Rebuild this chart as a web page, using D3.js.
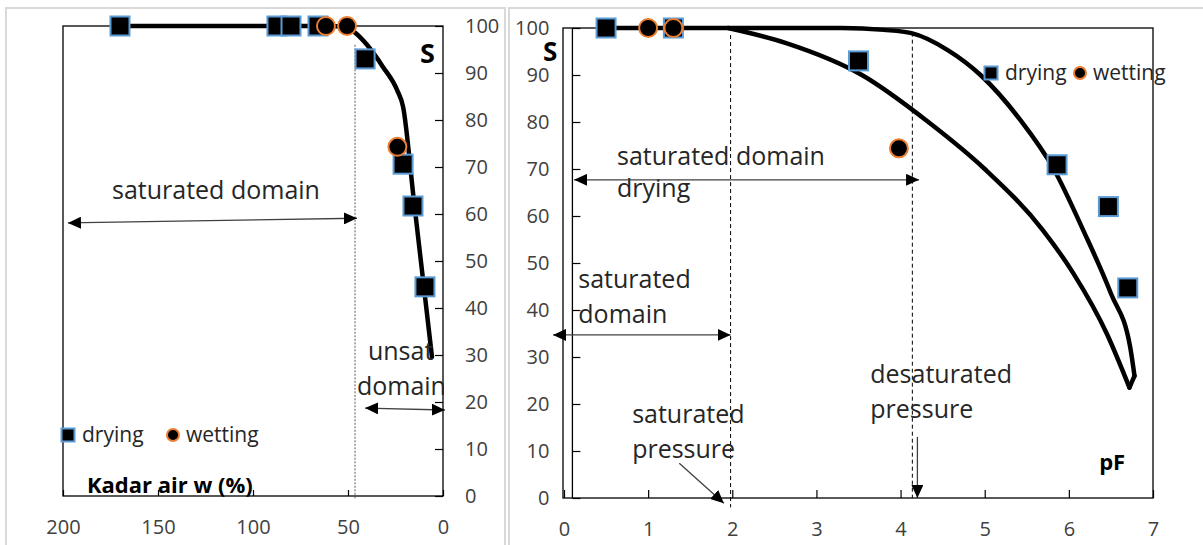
<!DOCTYPE html>
<html>
<head>
<meta charset="utf-8">
<script src="https://cdn.jsdelivr.net/npm/d3@7"></script>
<style>
  body { margin: 0; background: #fff; }
  text { font-family: "Open Sans", sans-serif; }
</style>
</head>
<body>
<svg width="1203" height="545"></svg>
<script>
// ---- data: left panel (water content w % vs S) ----
const leftDryW = [170, 87.4, 80, 65.8, 41, 21, 15.8, 9.5];
const leftDryS = [100, 100, 100, 100, 93, 70.6, 61.7, 44.5];
const leftWetW = [61.6, 50.5, 24];
const leftWetS = [100, 100, 74.3];
const leftCurveW = [170, 120, 80, 60, 52, 47, 40, 31.6, 24.2, 21, 15.5, 10.5, 5.8];
const leftCurveS = [100, 100, 100, 100, 99.7, 98.8, 96, 91.3, 86.4, 82.8, 63.5, 46, 29.6];
const leftXTicks = [200, 150, 100, 50, 0];

// ---- data: right panel (pF vs S) ----
const rightDryX = [0.5, 1.3, 3.5, 5.86, 6.47, 6.7];
const rightDryS = [100, 100, 93, 70.9, 62, 44.7];
const rightWetX = [1.0, 1.3, 3.98];
const rightWetS = [100, 100, 74.4];
const dryCurveX = [0.5, 2, 3.3, 3.8, 4.13, 4.56, 4.95, 5.42, 5.82, 6.17, 6.5, 6.73, 6.78];
const dryCurveS = [100, 100, 100, 99.6, 98.9, 95.3, 90, 80.5, 70, 57, 43.5, 32, 26];
const wetCurveX = [1.95, 2.64, 3.54, 4.33, 5.0, 5.69, 6.05, 6.45, 6.72];
const wetCurveS = [100, 96.8, 90, 80, 70, 57, 47.9, 35, 23.5];
const rightXTicks = [0, 1, 2, 3, 4, 5, 6, 7];
const yTicks = [0, 10, 20, 30, 40, 50, 60, 70, 80, 90, 100];

const svg = d3.select("svg");
const BLUE = "#5b9bd5", ORANGE = "#ed7d31";

// arrowheads
const defs = svg.append("defs");
defs.append("marker")
  .attr("id", "head")
  .attr("markerUnits", "userSpaceOnUse")
  .attr("markerWidth", 14).attr("markerHeight", 12)
  .attr("refX", 13).attr("refY", 6)
  .attr("orient", "auto-start-reverse")
  .append("path").attr("d", "M0,0 L13,6 L0,12 z").attr("fill", "#000");
defs.append("clipPath").attr("id", "clipL")
  .append("rect").attr("x", 0).attr("y", 0).attr("width", 444).attr("height", 545);

// panel frames
svg.append("rect").attr("x", 6).attr("y", 8).attr("width", 499).attr("height", 545)
  .attr("fill", "none").attr("stroke", "#d9d9d9").attr("stroke-width", 2);
svg.append("rect").attr("x", 509).attr("y", 8).attr("width", 700).attr("height", 545)
  .attr("fill", "none").attr("stroke", "#d9d9d9").attr("stroke-width", 2);

function styleAxis(g) {
  g.select(".domain").remove();
  g.selectAll(".tick line").attr("stroke", "#000").attr("stroke-width", 1.2);
  g.selectAll(".tick text").attr("fill", "#404040")
    .style("font-size", "20px").style("font-family", "Open Sans, sans-serif");
}

function drawPoints(g, xs, ys, x, y, kind) {
  const pts = xs.map((v, i) => [v, ys[i]]);
  if (kind === "sq") {
    g.selectAll(null).data(pts).enter().append("rect")
      .attr("x", d => x(d[0]) - 9.5).attr("y", d => y(d[1]) - 9.5)
      .attr("width", 19).attr("height", 19)
      .attr("fill", "#000").attr("stroke", BLUE).attr("stroke-width", 2);
  } else {
    g.selectAll(null).data(pts).enter().append("circle")
      .attr("cx", d => x(d[0])).attr("cy", d => y(d[1])).attr("r", 9)
      .attr("fill", "#000").attr("stroke", ORANGE).attr("stroke-width", 2);
  }
}

function arrow(g, x, y, a, double) {
  g.append("line")
    .attr("x1", x(a[0])).attr("y1", y(a[1])).attr("x2", x(a[2])).attr("y2", y(a[3]))
    .attr("stroke", "#404040").attr("stroke-width", 1.3)
    .attr("marker-end", "url(#head)")
    .attr("marker-start", double ? "url(#head)" : null);
}

function label(g, x, y, t, bold, size) {
  g.append("text").attr("x", x(t[1])).attr("y", y(t[2]))
    .attr("fill", bold ? "#000" : "#262626")
    .style("font-size", size + "px")
    .style("font-weight", bold ? "bold" : "normal")
    .text(t[0]);
}

// gap = distance from the square to the circle
function legend(g, tx, ty, gap) {
  const l = g.append("g").attr("transform", `translate(${tx},${ty})`);
  l.append("rect").attr("x", -6.5).attr("y", -6.5).attr("width", 13).attr("height", 13)
    .attr("fill", "#000").attr("stroke", BLUE).attr("stroke-width", 2);
  l.append("text").attr("x", 14).attr("y", 7).attr("fill", "#262626")
    .style("font-size", "21px").text("drying");
  l.append("circle").attr("cx", gap).attr("cy", 0).attr("r", 6)
    .attr("fill", "#000").attr("stroke", ORANGE).attr("stroke-width", 2);
  l.append("text").attr("x", gap + 13).attr("y", 7).attr("fill", "#262626")
    .style("font-size", "21px").text("wetting");
}

const line = d3.line().curve(d3.curveMonotoneX);

function curve(g, pts) {
  g.append("path").attr("d", line(pts))
    .attr("fill", "none").attr("stroke", "#000").attr("stroke-width", 4.5)
    .attr("stroke-linecap", "round").attr("stroke-linejoin", "round");
}

// ================= LEFT PANEL =================
const xL = d3.scaleLinear().domain([200, 0]).range([63, 443]);
const yL = d3.scaleLinear().domain([0, 100]).range([496, 26]);
const gL = svg.append("g");

gL.append("rect").attr("x", xL(200)).attr("y", yL(100))
  .attr("width", xL(0) - xL(200)).attr("height", yL(0) - yL(100))
  .attr("fill", "none").attr("stroke", "#000").attr("stroke-width", 1.3);

gL.append("g").attr("transform", `translate(${xL(0)},0)`)
  .call(d3.axisRight(yL).tickValues(yTicks).tickSizeInner(-8).tickSizeOuter(0).tickPadding(22))
  .call(styleAxis);
gL.append("g").attr("transform", `translate(0,${yL(0)})`)
  .call(d3.axisBottom(xL).tickValues(leftXTicks).tickSizeInner(-6).tickSizeOuter(0).tickPadding(24))
  .call(styleAxis);

// dotted saturation limit
gL.append("line").attr("x1", xL(46.3)).attr("x2", xL(46.3)).attr("y1", yL(96)).attr("y2", yL(-0.5))
  .attr("stroke", "#595959").attr("stroke-width", 1).attr("stroke-dasharray", "2,1.5");

curve(gL, leftCurveW.map((w, i) => [xL(w), yL(leftCurveS[i])]));

const annL = gL.append("g").attr("clip-path", "url(#clipL)");
label(annL, xL, yL, ["saturated domain", 174.2, 63.2], false, 25);
label(annL, xL, yL, ["unsat", 39.5, 28.9], false, 25);
label(annL, xL, yL, ["domain", 45.3, 21.5], false, 25);
arrow(gL, xL, yL, [197.4, 58.1, 45.3, 59.1], true);
arrow(gL, xL, yL, [41, 18.7, -1, 18.3], true);
label(gL, xL, yL, ["S", 12.1, 92.1], true, 27);
label(gL, xL, yL, ["Kadar air w (%)", 187.4, 0.6], true, 22);

drawPoints(gL, leftDryW, leftDryS, xL, yL, "sq");
drawPoints(gL, leftWetW, leftWetS, xL, yL, "ci");
legend(gL, 68, 435, 105);

// ================= RIGHT PANEL =================
const xR = d3.scaleLinear().domain([0, 7]).range([564, 1153]);
const yR = d3.scaleLinear().domain([0, 100]).range([498, 28]);
const gR = svg.append("g");

gR.append("rect").attr("x", xR(0) - 1).attr("y", yR(100))
  .attr("width", xR(7) - xR(0) + 1).attr("height", yR(0) - yR(100))
  .attr("fill", "none").attr("stroke", "#000").attr("stroke-width", 1.3);
gR.append("line").attr("x1", xR(0.1)).attr("x2", xR(0.1)).attr("y1", yR(100)).attr("y2", yR(0))
  .attr("stroke", "#000").attr("stroke-width", 1.3);

gR.append("g").attr("transform", `translate(${xR(0.1)},0)`)
  .call(d3.axisLeft(yR).tickValues(yTicks).tickSizeInner(-8).tickSizeOuter(0).tickPadding(23))
  .call(styleAxis);
gR.append("g").attr("transform", `translate(0,${yR(0)})`)
  .call(d3.axisBottom(xR).tickValues(rightXTicks).tickFormat(d3.format("d"))
    .tickSizeInner(-8).tickSizeOuter(0).tickPadding(24))
  .call(styleAxis);

// dashed pressure limits
[[1.98, 98.5, -2], [4.14, 99, 0]].forEach(d => {
  gR.append("line").attr("x1", xR(d[0])).attr("x2", xR(d[0])).attr("y1", yR(d[1])).attr("y2", yR(d[2]))
    .attr("stroke", "#000").attr("stroke-width", 1).attr("stroke-dasharray", "4,3");
});

const dryPts = dryCurveX.map((v, i) => [xR(v), yR(dryCurveS[i])]);
const wetPts = wetCurveX.map((v, i) => [xR(v), yR(wetCurveS[i])]);
curve(gR, dryPts);
curve(gR, wetPts);
// closing tip of the hysteresis loop
curve(gR, [dryPts[dryPts.length - 1], wetPts[wetPts.length - 1]]);

label(gR, xR, yR, ["saturated domain", 0.63, 70.9], false, 25);
label(gR, xR, yR, ["drying", 0.63, 64], false, 25);
label(gR, xR, yR, ["saturated", 0.17, 44.7], false, 25);
label(gR, xR, yR, ["domain", 0.17, 37.2], false, 25);
label(gR, xR, yR, ["saturated", 0.81, 16], false, 25);
label(gR, xR, yR, ["pressure", 0.81, 8.5], false, 25);
label(gR, xR, yR, ["desaturated", 3.64, 24.5], false, 25);
label(gR, xR, yR, ["pressure", 3.64, 17], false, 25);
label(gR, xR, yR, ["pF", 6.36, 6], true, 22);
label(gR, xR, yR, ["S", -0.25, 93], true, 26);

arrow(gR, xR, yR, [0.12, 67.7, 4.22, 67.7], true);
arrow(gR, xR, yR, [-0.13, 34.7, 1.98, 34.7], true);
arrow(gR, xR, yR, [1.37, 7.4, 1.9, -1.1], false);
arrow(gR, xR, yR, [4.2, 13, 4.2, 0], false);

drawPoints(gR, rightDryX, rightDryS, xR, yR, "sq");
drawPoints(gR, rightWetX, rightWetS, xR, yR, "ci");
legend(gR, 991, 73, 89);
</script>
</body>
</html>
